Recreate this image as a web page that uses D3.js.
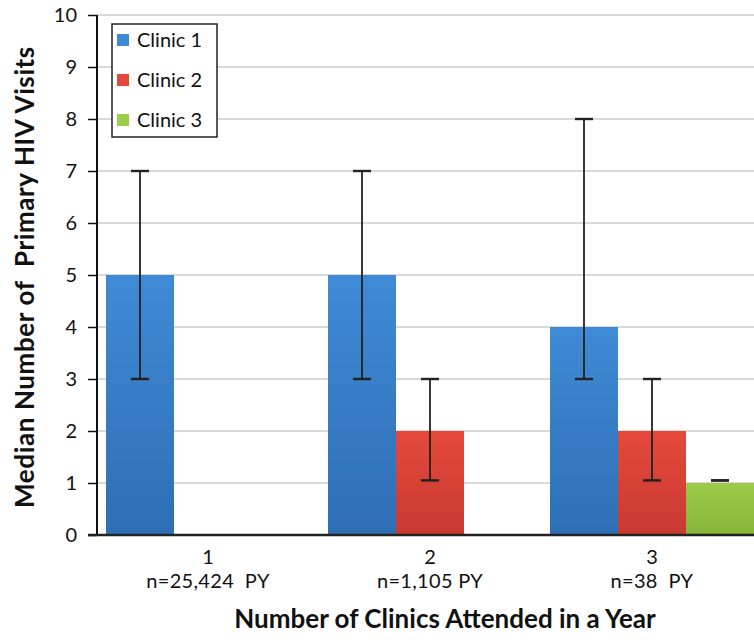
<!doctype html>
<html>
<head>
<meta charset="UTF-8">
<script src="https://cdn.jsdelivr.net/npm/d3@7"></script>
<style>
  body { margin: 0; background: #fff; }
  svg { display: block; font-family: Lato, "Open Sans", sans-serif; }
</style>
</head>
<body>
<svg id="chart" width="754" height="640"></svg>
<script>
// data
const groups = ["1", "2", "3"];
const groupNotes = ["n=25,424  PY", "n=1,105 PY", "n=38  PY"];
const clinics = ["Clinic 1", "Clinic 2", "Clinic 3"];
const clinic1 = [5, 5, 4];
const clinic2 = [null, 2, 2];
const clinic3 = [null, null, 1];
const low1 = [3, 3, 3], high1 = [7, 7, 8];
const low2 = [null, 1.05, 1.05], high2 = [null, 3, 3];
const low3 = [null, null, 1.05], high3 = [null, null, 1.05];
const yTicks = [0, 1, 2, 3, 4, 5, 6, 7, 8, 9, 10];

const colors = {
  "Clinic 1": ["#3f8ad6", "#2e6fb4"],
  "Clinic 2": ["#e5493c", "#c83a31"],
  "Clinic 3": ["#9ccc48", "#86b43a"]
};

const rows = [];
groups.forEach((g, i) => {
  [[clinic1, low1, high1], [clinic2, low2, high2], [clinic3, low3, high3]].forEach((s, j) => {
    if (s[0][i] != null) rows.push({ g, c: clinics[j], v: s[0][i], lo: s[1][i], hi: s[2][i] });
  });
});

const m = { left: 97, top: 15, bottom: 105 };
const W = 666, H = 640 - m.top - m.bottom;

const svg = d3.select("#chart");
const defs = svg.append("defs");
clinics.forEach((c, i) => {
  const lg = defs.append("linearGradient").attr("id", "g" + i)
    .attr("x1", 0).attr("y1", 0).attr("x2", 0).attr("y2", 1);
  lg.append("stop").attr("offset", "0%").attr("stop-color", colors[c][0]);
  lg.append("stop").attr("offset", "100%").attr("stop-color", colors[c][1]);
});

const g = svg.append("g").attr("transform", `translate(${m.left},${m.top})`);

const x = d3.scaleBand().domain(groups).range([0, W]).paddingInner(18 / 222).paddingOuter(9 / 222);
const xc = d3.scaleBand().domain(clinics).range([0, x.bandwidth()]);
const y = d3.scaleLinear().domain([0, 10]).range([H, 0]);

// gridlines
g.append("g").selectAll("line").data(yTicks.slice(1)).join("line")
  .attr("x1", 0).attr("x2", W)
  .attr("y1", d => y(d)).attr("y2", d => y(d))
  .attr("stroke", "#cccccc").attr("stroke-width", 1.5);

// bars
g.append("g").selectAll("rect").data(rows).join("rect")
  .attr("x", d => x(d.g) + xc(d.c))
  .attr("y", d => y(d.v))
  .attr("width", xc.bandwidth())
  .attr("height", d => y(0) - y(d.v))
  .attr("fill", d => `url(#g${clinics.indexOf(d.c)})`);

// error bars
const eb = g.append("g").attr("stroke", "#222").attr("stroke-width", 1.8);
rows.forEach(d => {
  const cx = x(d.g) + xc(d.c) + xc.bandwidth() / 2;
  if (d.hi !== d.lo) {
    eb.append("line").attr("x1", cx).attr("x2", cx).attr("y1", y(d.hi)).attr("y2", y(d.lo));
  }
  [d.lo, d.hi].forEach(v => eb.append("line")
    .attr("x1", cx - 9).attr("x2", cx + 9).attr("y1", y(v)).attr("y2", y(v)).attr("stroke-width", 2.4));
});

// y axis
const ya = g.append("g").call(d3.axisLeft(y).tickValues(yTicks).tickSize(9).tickPadding(11));
ya.select(".domain").attr("stroke", "#111").attr("stroke-width", 2).attr("d", `M0,${H}V0`);
ya.selectAll(".tick line").attr("stroke", "#111").attr("stroke-width", 1.5);
ya.selectAll("text").attr("font-size", 20).attr("fill", "#111").attr("font-family", "Lato");

// x axis baseline
g.append("line").attr("x1", -9).attr("x2", W).attr("y1", H).attr("y2", H)
  .attr("stroke", "#222").attr("stroke-width", 2.5);

// category labels
const xl = g.append("g").selectAll("text").data(groups).join("text")
  .attr("y", H + 29)
  .attr("xml:space", "preserve")
  .attr("text-anchor", "middle").attr("font-size", 20).attr("fill", "#111");
xl.append("tspan").attr("x", d => x(d) + x.bandwidth() / 2).text(d => d);
xl.append("tspan").attr("x", d => x(d) + x.bandwidth() / 2).attr("dy", 24)
  .attr("letter-spacing", 0.3)
  .text((d, i) => groupNotes[i]);

// axis titles
svg.append("text").attr("x", 445).attr("y", 628).attr("text-anchor", "middle")
  .attr("font-size", 26).attr("font-weight", "bold").attr("fill", "#111")
  .text("Number of Clinics Attended in a Year");
svg.append("text").attr("transform", "translate(34,277) rotate(-90)").attr("text-anchor", "middle")
  .attr("font-size", 26).attr("font-weight", "bold").attr("fill", "#111")
  .attr("letter-spacing", 0.6)
  .attr("xml:space", "preserve")
  .text("Median Number of  Primary HIV Visits");

// legend
const lg = svg.append("g").attr("transform", "translate(112,24)");
lg.append("rect").attr("width", 105).attr("height", 113)
  .attr("fill", "#fff").attr("stroke", "#222").attr("stroke-width", 1.5);
clinics.forEach((c, i) => {
  const row = lg.append("g").attr("transform", `translate(5,${16 + i * 40})`);
  row.append("rect").attr("x", 0).attr("y", -6).attr("width", 12).attr("height", 12)
    .attr("fill", colors[c][0]);
  row.append("text").attr("x", 20).attr("y", 7).attr("font-size", 20).attr("fill", "#111").text(c);
});
</script>
</body>
</html>
